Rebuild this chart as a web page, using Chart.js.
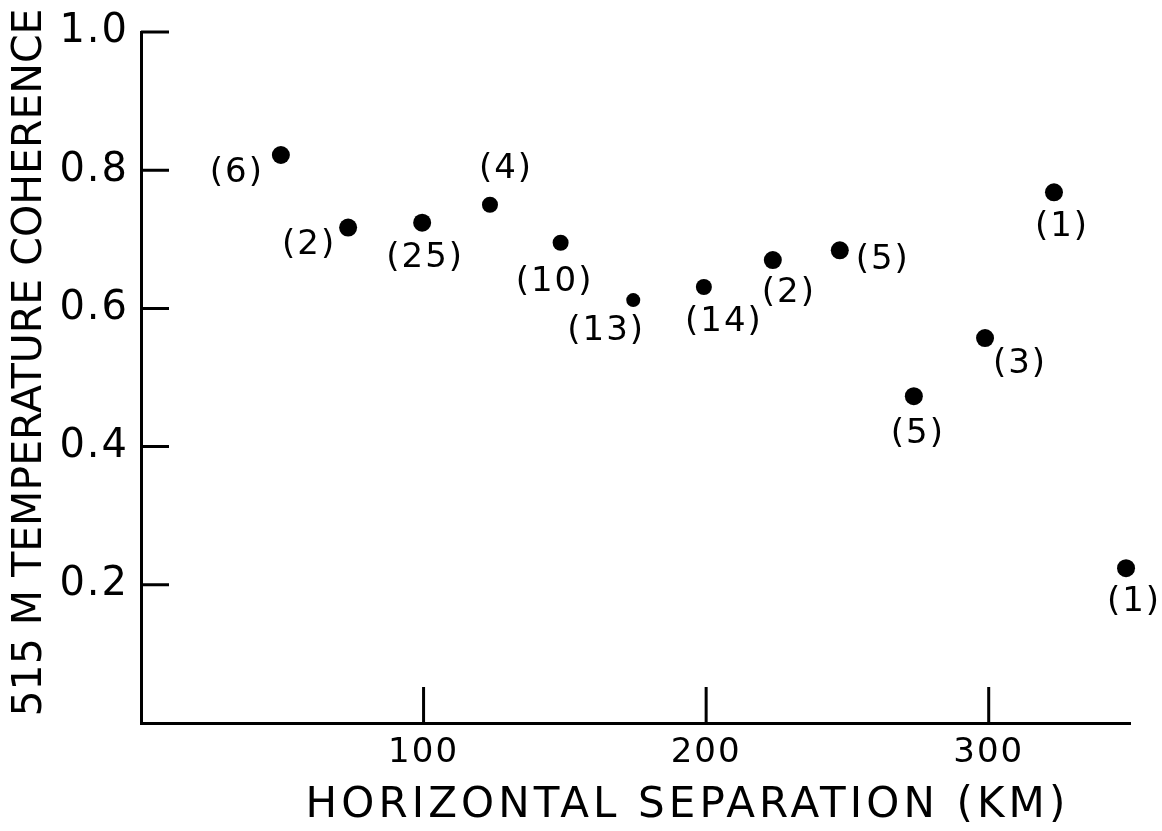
<!DOCTYPE html>
<html>
<head>
<meta charset="utf-8">
<script src="https://cdn.jsdelivr.net/npm/chart.js@4"></script>
<style>
  html, body { margin: 0; padding: 0; background: #fff; }
  #wrap { width: 1162px; height: 831px; }
</style>
</head>
<body>
<div id="wrap"><canvas id="coherenceChart" width="1162" height="831"></canvas></div>
<script>
// values
const separationKm = [49.5, 73.3, 99.5, 123.5, 148.5, 174.2, 199.2, 223.6, 247.3, 273.5, 298.7, 323.1, 348.6];
const coherence = [0.822, 0.717, 0.724, 0.750, 0.695, 0.612, 0.631, 0.670, 0.684, 0.473, 0.557, 0.768, 0.224];
const pairCounts = ['(6)', '(2)', '(25)', '(4)', '(10)', '(13)', '(14)', '(2)', '(5)', '(5)', '(3)', '(1)', '(1)'];
const xTickValues = [100, 200, 300];
const yTickValues = [0.2, 0.4, 0.6, 0.8, 1.0];

// where each count label sits relative to its dot (px), and dot sizes
const labelShift = [[-44, 18], [-39, 18], [3, 35], [16, -36], [-6, 39], [-27, 31], [20, 35],
                    [16, 33], [43, 10], [4, 38], [35, 26], [8, 35], [8, 34]];
const dotRadius = [9, 9, 9, 8, 8, 7, 8, 9, 9, 9, 9, 9, 9];

const FONT = "'DejaVu Sans', sans-serif";

// slight letter spacing like the hand lettering; titles get their own spacing/offset
const spacing = {
  id: 'spacing',
  beforeDraw(chart) {
    chart.ctx.letterSpacing = '2px';
    const wrap = (scale, px, dx, dy) => {
      if (scale._spaced) return;
      const orig = scale.drawTitle;
      scale.drawTitle = function () {
        const c = this.ctx;
        c.save();
        c.letterSpacing = px;
        c.translate(dx, dy);
        orig.call(this);
        c.restore();
      };
      scale._spaced = true;
    };
    wrap(chart.scales.x, '4.1px', 52, 0);
    wrap(chart.scales.y, '0px', 0, -15);
  }
};

// tick marks point into the plot
const inwardTicks = {
  id: 'inwardTicks',
  afterDraw(chart) {
    const { ctx, chartArea, scales: { x, y } } = chart;
    ctx.save();
    ctx.strokeStyle = '#000';
    ctx.lineWidth = 3;
    ctx.beginPath();
    xTickValues.forEach(v => {
      const px = x.getPixelForValue(v);
      ctx.moveTo(px, chartArea.bottom);
      ctx.lineTo(px, chartArea.bottom - 36);
    });
    yTickValues.forEach(v => {
      const py = y.getPixelForValue(v);
      ctx.moveTo(chartArea.left, py);
      ctx.lineTo(chartArea.left + 28, py);
    });
    ctx.stroke();
    ctx.restore();
  }
};

// the (n) counts next to each dot
const countLabels = {
  id: 'countLabels',
  afterDatasetsDraw(chart) {
    const { ctx } = chart;
    const pts = chart.getDatasetMeta(0).data;
    ctx.save();
    ctx.font = '34px ' + FONT;
    ctx.fillStyle = '#000';
    ctx.textAlign = 'center';
    ctx.textBaseline = 'middle';
    pts.forEach((p, i) => {
      ctx.fillText(pairCounts[i], p.x + labelShift[i][0], p.y + labelShift[i][1]);
    });
    ctx.restore();
  }
};

new Chart(document.getElementById('coherenceChart'), {
  type: 'scatter',
  data: {
    datasets: [{
      data: separationKm.map((v, i) => ({ x: v, y: coherence[i] })),
      backgroundColor: '#000',
      borderWidth: 0,
      pointRadius: dotRadius,
      pointHoverRadius: dotRadius,
      clip: false
    }]
  },
  options: {
    responsive: false,
    animation: false,
    events: [],
    layout: { padding: { top: 32, right: 32, left: 0, bottom: 0 } },
    plugins: { legend: { display: false }, tooltip: { enabled: false } },
    scales: {
      x: {
        type: 'linear',
        min: 0,
        max: 350,
        afterBuildTicks: axis => { axis.ticks = xTickValues.map(v => ({ value: v })); },
        afterFit: axis => { axis.height = 108; },
        grid: { drawOnChartArea: false, drawTicks: false },
        border: { display: true, color: '#000', width: 3 },
        ticks: { color: '#000', padding: 10, maxRotation: 0, font: { family: FONT, size: 34 } },
        title: {
          display: true,
          text: 'HORIZONTAL SEPARATION (KM)',
          color: '#000',
          font: { family: FONT, size: 42, lineHeight: 1 },
          padding: { top: 0, bottom: 4 }
        }
      },
      y: {
        type: 'linear',
        min: 0,
        max: 1,
        afterBuildTicks: axis => { axis.ticks = yTickValues.map(v => ({ value: v })); },
        afterFit: axis => { axis.width = 141; },
        grid: { drawOnChartArea: false, drawTicks: false },
        border: { display: true, color: '#000', width: 3 },
        ticks: {
          color: '#000',
          padding: 12,
          font: { family: FONT, size: 40, lineHeight: 0.8 },
          callback: v => Number(v).toFixed(1)
        },
        title: {
          display: true,
          text: '515 M TEMPERATURE COHERENCE',
          color: '#000',
          font: { family: FONT, size: 41, lineHeight: 1 },
          padding: { top: 10, bottom: 0 }
        }
      }
    }
  },
  plugins: [spacing, inwardTicks, countLabels]
});
</script>
</body>
</html>
